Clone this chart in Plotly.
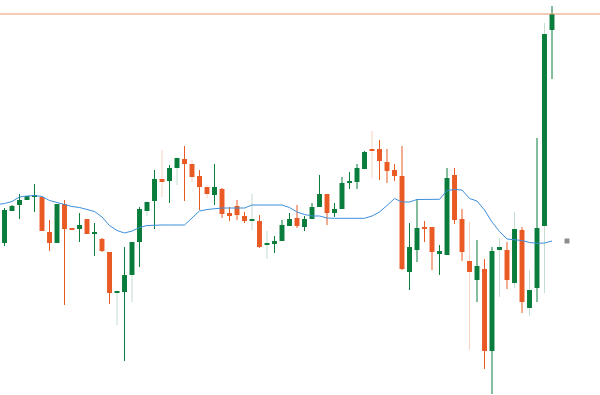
import plotly.graph_objects as go

# ---- data ----
idx = list(range(74))
opens = [157, 189, 195, 200, 203, 203, 168, 157, 196, 171,
         171, 181, 166, 161, 148, 107, 108, 125, 158, 189,
         199, 221, 219, 232, 241, 236, 224, 213, 205, 211,
         187, 194, 184, 179, 179, 155, 156, 159, 174, 182,
         173, 181, 193, 206, 187, 191, 217, 218, 231, 250,
         251, 238, 230, 224, 128, 150, 172, 173, 146, 145,
         225, 181, 139, 120, 131, 49, 150, 150, 117, 170,
         92, 112, 174, 370]
closes = [190, 194, 200, 204, 205, 169, 157, 196, 171, 170,
          175, 166, 167, 149, 107, 108, 125, 158, 191, 198,
          221, 218, 232, 242, 236, 223, 213, 206, 213, 186,
          184, 185, 179, 179.5, 153, 157, 159, 175, 181, 174,
          181, 193, 206, 187, 191, 217, 218, 232, 248, 249,
          239, 229, 224, 131, 153, 172, 171, 148, 149, 222,
          180, 148, 128, 134, 49, 149, 153, 120, 171, 98,
          110, 172, 366, 386]
highs = [192, 195, 206, 204, 216, 203, 180, 196, 200, 171,
         187, 181, 177, 162, 148, 109, 153, 158, 193, 199,
         230, 250, 235, 243, 254, 240, 230, 215, 236, 212,
         193, 200, 188, 206, 185, 169, 164, 180, 187, 195,
         184, 197, 225, 206, 197, 223, 228, 236, 249, 269,
         260, 251, 236, 254, 177, 201, 179, 173, 155, 232,
         232, 191, 178, 160, 141, 153, 162, 158, 188, 173,
         130, 262, 377, 394]
lows = [154, 189, 181, 200, 188, 169, 149, 157, 95, 170,
        158, 166, 144, 148, 96, 75, 39, 98, 133, 184,
        171, 203, 197, 215, 199, 218, 190, 202, 195, 182,
        179, 180, 177, 170, 152, 141, 147, 159, 174, 172,
        169, 181, 193, 175, 183, 191, 211, 211, 231, 222,
        220, 217, 219, 130, 110, 138, 158, 130, 125, 145,
        176, 139, 50, 98, 31, 6, 103, 111, 112, 87,
        84, 98, 107, 321]
# moving average, starting one bar before the first visible candle
ma_idx = list(range(-1, 74))
ma = [195.5,
      196.5, 198.5, 203, 204, 204.5, 203.5, 199.5, 197.5, 195.5, 193.5,
      192.5, 190.5, 188.5, 183, 174.5, 169.5, 167, 169, 172.5, 174.5,
      175, 175, 175, 175, 175, 182, 189, 190.5, 191.5, 192,
      192, 192, 192, 195, 195, 195, 195, 195, 192.5, 188,
      185.5, 184, 184, 182, 181.7, 181.7, 181.7, 181.7, 181.7, 184,
      188, 194.5, 201.5, 198, 198, 200.5, 200.7, 200.7, 200.7, 209.5,
      210.5, 210, 201.5, 199, 190, 178, 168.5, 161, 160, 159.5,
      157.5, 156.7, 157, 159]
ma_label_x = [75]

# ---- style ----
GREEN = "#0a7d3c"
ORANGE = "#ea5a24"
FAINT_GREEN = "rgba(10,125,60,0.25)"
FAINT_ORANGE = "rgba(234,90,36,0.28)"
BLUE = "#3d8fdc"
faint_wick_idx = {15, 17, 19, 21, 23, 25, 27, 33, 35, 49, 62, 66, 68, 70, 72}

fig = go.Figure()

# wicks
groups = {}
for i, o, c, h, l in zip(idx, opens, closes, highs, lows):
    up = c >= o
    faint = i in faint_wick_idx
    key = (up, faint)
    xs, ys = groups.setdefault(key, ([], []))
    xs += [i, i, None]
    ys += [l, h, None]

for (up, faint), (xs, ys) in groups.items():
    if faint:
        col = FAINT_GREEN if up else FAINT_ORANGE
    else:
        col = GREEN if up else ORANGE
    fig.add_trace(go.Scatter(x=xs, y=ys, mode="lines",
                             line=dict(color=col, width=1),
                             hoverinfo="skip", showlegend=False))

# bodies
base = [min(o, c) for o, c in zip(opens, closes)]
height = [max(abs(c - o), 1.2) for o, c in zip(opens, closes)]
colors = [GREEN if c >= o else ORANGE for o, c in zip(opens, closes)]
fig.add_trace(go.Bar(x=idx, y=height, base=base, width=0.66,
                     marker=dict(color=colors, line=dict(width=0)),
                     showlegend=False, hoverinfo="skip"))

# moving average
fig.add_trace(go.Scatter(x=ma_idx, y=ma, mode="lines",
                         line=dict(color=BLUE, width=1),
                         showlegend=False, hoverinfo="skip"))

# MA marker at right
fig.add_trace(go.Scatter(x=ma_label_x, y=[ma[-1]], mode="markers",
                         marker=dict(symbol="square", size=5, color="#8c8c8c"),
                         showlegend=False, hoverinfo="skip"))

# last price line
fig.add_shape(type="line", xref="paper", x0=0, x1=1,
              y0=closes[-1], y1=closes[-1],
              line=dict(color="#e9976f", width=1))

fig.update_layout(
    width=600, height=395,
    margin=dict(l=0, r=0, t=0, b=0),
    paper_bgcolor="white", plot_bgcolor="white",
    showlegend=False,
    xaxis=dict(visible=False, range=[-0.6, 79.4], fixedrange=True),
    yaxis=dict(visible=False, range=[5, 400], fixedrange=True),
)

fig.write_html("out.html", config={"displayModeBar": False})
